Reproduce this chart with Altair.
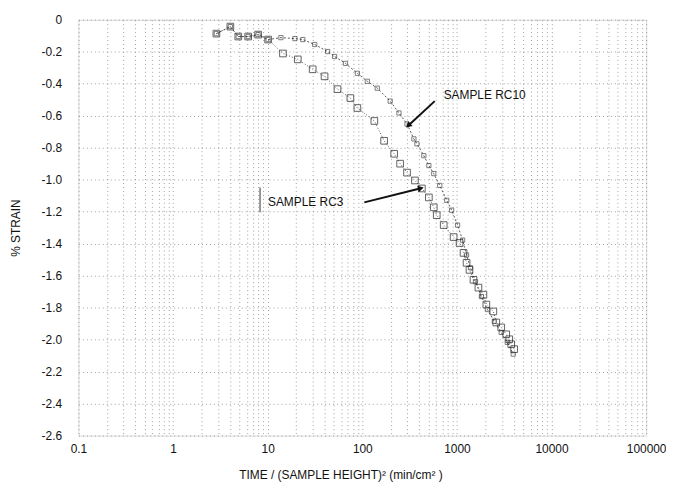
import math
import altair as alt
import pandas as pd

# ---- data ----
rc3_time = [2.87, 4.03, 4.89, 6.22, 7.92, 10.1, 14.5, 20.8, 29.9, 39.9, 54.7, 74.8, 88.7,
            134, 170, 217, 251, 297, 360, 426, 505, 569, 612, 725, 923, 1067, 1175, 1264,
            1358, 1496, 1688, 1905, 2046, 2426, 2606, 2942, 3319, 3573, 3750, 4027]
rc3_strain = [-0.087, -0.043, -0.105, -0.105, -0.093, -0.124, -0.211, -0.248, -0.310, -0.354,
              -0.434, -0.490, -0.552, -0.633, -0.757, -0.838, -0.900, -0.956, -1.005, -1.055,
              -1.111, -1.173, -1.222, -1.284, -1.359, -1.396, -1.458, -1.520, -1.564, -1.626,
              -1.675, -1.719, -1.781, -1.824, -1.893, -1.924, -1.967, -1.998, -2.029, -2.060]

rc10_time = [2.87, 4.03, 4.89, 6.22, 7.92, 10.1, 13.8, 19.4, 23.5, 31.4, 43.0, 50.9, 66.4,
             88.7, 113, 144, 197, 244, 297, 351, 378, 447, 505, 569, 658, 780, 879, 1016,
             1148, 1264, 1390, 1570, 1815, 2099, 2483, 2942, 3404, 3936]
rc10_strain = [-0.087, -0.043, -0.105, -0.105, -0.093, -0.124, -0.112, -0.118, -0.124, -0.155,
               -0.199, -0.230, -0.273, -0.335, -0.385, -0.428, -0.509, -0.583, -0.652, -0.745,
               -0.776, -0.850, -0.912, -0.962, -1.036, -1.129, -1.191, -1.284, -1.378, -1.471,
               -1.551, -1.638, -1.731, -1.812, -1.886, -1.955, -2.017, -2.091]

x_decades = [0.1, 1, 10, 100, 1000, 10000, 100000]
y_ticks = [0, -0.2, -0.4, -0.6, -0.8, -1.0, -1.2, -1.4, -1.6, -1.8, -2.0, -2.2, -2.4, -2.6]

label_text = ["SAMPLE RC10", "SAMPLE RC3"]
label_x = [690, 9.6]
label_y = [-0.47, -1.14]
arrow_x = [583, 105]
arrow_y = [-0.509, -1.142]
arrow_x2 = [311, 406]
arrow_y2 = [-0.658, -1.055]
bracket_x = [8.3]
bracket_y = [-1.049]
bracket_y2 = [-1.204]

# ---- derived tables ----
minor_vals = []
for d in x_decades[:-1]:
    for m in range(1, 10):
        minor_vals.append(round(d * m, 6))
minor_vals.append(100000)

df3 = pd.DataFrame({"t": rc3_time, "s": rc3_strain})
df10 = pd.DataFrame({"t": rc10_time, "s": rc10_strain})

PX_DEC = 572 / 6.0
PX_UNIT = 419 / 2.6
angles = []
for x1, y1, x2, y2 in zip(arrow_x, arrow_y, arrow_x2, arrow_y2):
    dx = (math.log10(x2) - math.log10(x1)) * PX_DEC
    dy = -(y2 - y1) * PX_UNIT
    angles.append((math.degrees(math.atan2(dx, -dy)) + 360) % 360)
arrows = pd.DataFrame({"x": arrow_x, "y": arrow_y, "x2": arrow_x2, "y2": arrow_y2, "a": angles})
labels = pd.DataFrame({"x": label_x, "y": label_y, "text": label_text})
bracket = pd.DataFrame({"x": bracket_x, "y": bracket_y, "y2": bracket_y2})

FONT = "Liberation Sans"
dec_js = "[" + ",".join(repr(v) for v in x_decades) + "]"

xscale = alt.Scale(type="log", domain=[0.1, 100000], nice=False)
yscale = alt.Scale(domain=[-2.6, 0], nice=False, zero=False)

xaxis = alt.Axis(
    values=minor_vals,
    labelExpr=f"indexof({dec_js}, datum.value) >= 0 ? format(datum.value, '') : ''",
    title="TIME / (SAMPLE HEIGHT)\u00b2  (min/cm\u00b2 )",
    titleFont=FONT, titleFontSize=12, titleFontWeight="normal", titleColor="#111",
    titleX=264, titleY=34,
    labelFont=FONT, labelFontSize=12, labelColor="#111", labelPadding=8,
    labelFlush=False, labelOverlap=False,
    grid=True, gridDash=[1, 3], gridColor="#888", gridOpacity=0.8,
    ticks=False, domain=False,
)
yaxis = alt.Axis(
    values=y_ticks,
    labelExpr="datum.value == 0 ? '0' : (datum.value < 0 ? '-' : '') + format(abs(datum.value), '.1f')",
    title="% STRAIN",
    titleFont=FONT, titleFontSize=12, titleFontWeight="normal", titleColor="#111",
    titleX=-56,
    labelFont=FONT, labelFontSize=12, labelColor="#111", labelPadding=17,
    labelOverlap=False, labelFlush=False, labelBound=False, labelSeparation=0,
    grid=True, gridDash=[1, 3], gridColor="#888", gridOpacity=0.8,
    ticks=False, domain=False,
)

X = alt.X("t:Q", scale=xscale, axis=xaxis)
Y = alt.Y("s:Q", scale=yscale, axis=yaxis)

line10 = alt.Chart(df10).mark_line(strokeDash=[2, 2], color="#444", strokeWidth=0.9).encode(x=X, y=Y)
pts10 = alt.Chart(df10).mark_point(shape="square", size=18, filled=False, color="#333",
                                   strokeWidth=0.9).encode(x=X, y=Y)
line3 = alt.Chart(df3).mark_line(strokeDash=[1, 2], color="#444", strokeWidth=0.9).encode(x=X, y=Y)
pts3 = alt.Chart(df3).mark_point(shape="square", size=45, filled=False, color="#222",
                                 strokeWidth=1).encode(x=X, y=Y)

arrow_lines = alt.Chart(arrows).mark_rule(color="#111", strokeWidth=2).encode(
    x=alt.X("x:Q", scale=xscale, axis=xaxis), y=alt.Y("y:Q", scale=yscale, axis=yaxis),
    x2="x2:Q", y2="y2:Q")
arrow_heads = alt.Chart(arrows).mark_point(shape="triangle", filled=True, color="#111",
                                           size=45, opacity=1).encode(
    x=alt.X("x2:Q", scale=xscale, axis=xaxis), y=alt.Y("y2:Q", scale=yscale, axis=yaxis),
    angle=alt.Angle("a:Q", scale=None))
text = alt.Chart(labels).mark_text(align="left", baseline="middle", font=FONT, fontSize=12,
                                   color="#111", dx=2).encode(
    x=alt.X("x:Q", scale=xscale, axis=xaxis), y=alt.Y("y:Q", scale=yscale, axis=yaxis),
    text="text:N")
brk = alt.Chart(bracket).mark_rule(color="#333", strokeWidth=1).encode(
    x=alt.X("x:Q", scale=xscale, axis=xaxis), y=alt.Y("y:Q", scale=yscale, axis=yaxis), y2="y2:Q")

chart = alt.layer(line10, line3, pts10, pts3, arrow_lines, arrow_heads, brk, text).properties(
    width=572, height=419,
    autosize=alt.AutoSizeParams(type="none"),
    padding={"left": 71, "top": 10, "right": 20, "bottom": 48},
).configure_view(stroke=None).configure(background="white").configure_axis(labelOverlap=False)

chart.save("out.html", embed_options={"renderer": "svg", "actions": False})
